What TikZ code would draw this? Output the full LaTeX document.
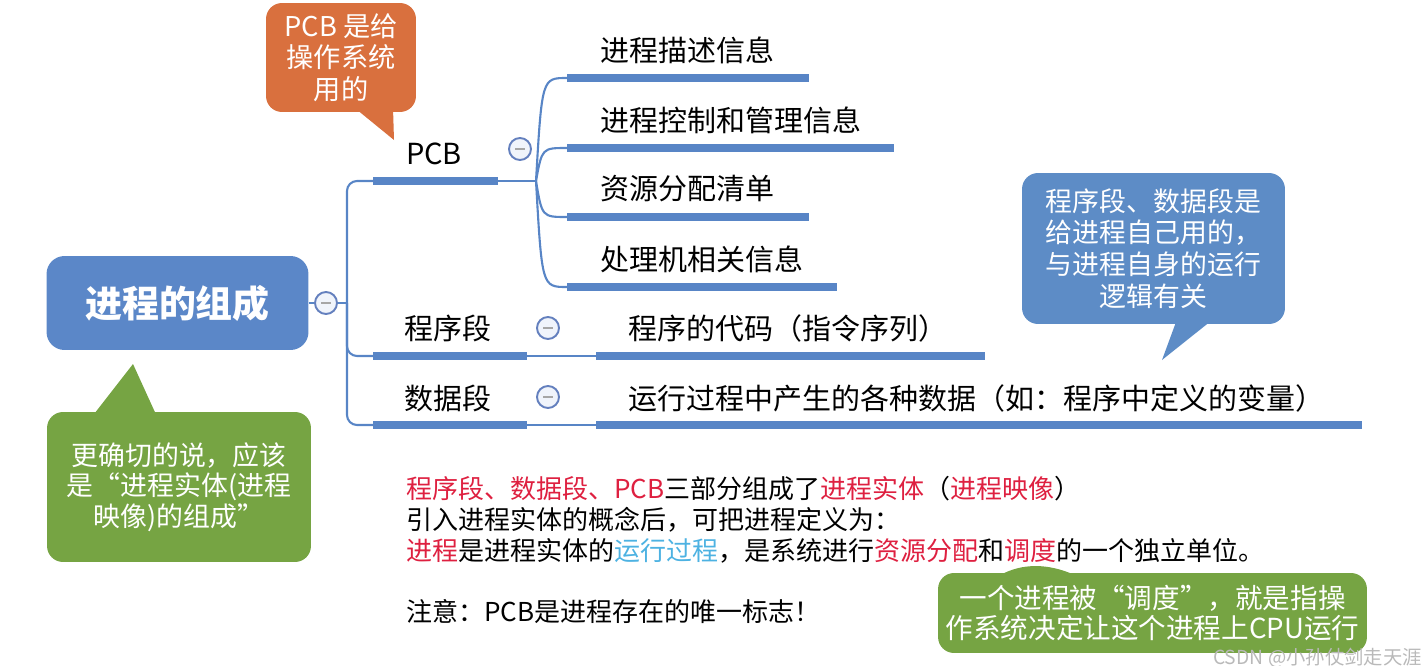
\documentclass[tikz,border=0pt]{standalone}
\usepackage{fontspec}
\usepackage{xcolor}
\setmainfont{Noto Sans CJK SC}
\definecolor{mapblue}{RGB}{88,133,198}
\definecolor{rootblue}{RGB}{91,135,200}
\definecolor{foldblue}{RGB}{100,128,190}
\definecolor{foldfill}{RGB}{240,244,251}
\definecolor{noteorange}{RGB}{217,112,62}
\definecolor{notegreen}{RGB}{118,164,67}
\definecolor{noteblue}{RGB}{93,140,198}
\definecolor{keyred}{RGB}{222,32,64}
\definecolor{keysky}{RGB}{77,178,226}

\begin{document}
\begin{tikzpicture}[x=0.02cm,y=-0.02cm,
    link/.style={draw=mapblue, line width=1.2pt},
    bar/.style={draw=mapblue, line width=4pt},
    lbl/.style={font=\fontsize{16.5}{20}\selectfont, inner sep=0pt},
    txt/.style={font=\fontsize{14.8}{18}\selectfont, inner sep=0pt, anchor=west},
    fold/.style={circle, draw=foldblue, fill=foldfill, line width=1.1pt,
      minimum size=0.44cm, inner sep=0pt,
      path picture={\draw[gray!70, line width=1.5pt]
        ([xshift=-0.1cm]path picture bounding box.center) --
        ([xshift=0.1cm]path picture bounding box.center);}},
    note/.style={rounded corners=0.32cm, inner sep=0pt, align=center, text=white}]
  \useasboundingbox (0,0) rectangle (1427,666);

  % root and trunk
  \node[fill=rootblue, rounded corners=0.36cm, minimum width=5.24cm, minimum height=1.88cm,
    text=white, font=\bfseries\fontsize{21}{25}\selectfont] (root) at (177.5,303) {进程的组成};
  \node[fold] (rootf) at (326,303) {};
  \coordinate (trunk) at (347,303);
  \draw[link] (root) -- (rootf); \draw[link] (rootf) -- (trunk);

  \coordinate (pcbL) at (373,181); \coordinate (pcbR) at (498,181);
  \coordinate (progL) at (373,356); \coordinate (progR) at (527,356);
  \coordinate (dataL) at (373,425); \coordinate (dataR) at (527,425);
  \draw[link, rounded corners=0.2cm] (pcbL) -| (trunk) |- (dataL);
  \draw[link, rounded corners=0.2cm] (trunk) |- (progL);
  \draw[bar] (pcbL) -- (pcbR); \draw[bar] (progL) -- (progR); \draw[bar] (dataL) -- (dataR);

  \node[lbl] (pcb) at (434,154) {PCB}; \node[fold] (pcbf) at (520,149) {};
  \node[lbl] (prog) at (448,328) {程序段}; \node[fold] (progf) at (548,328) {};
  \node[lbl] (data) at (448,398) {数据段}; \node[fold] (dataf) at (548,397) {};

  % PCB children
  \coordinate (pcbJ) at (536,181);
  \draw[link] (pcbR) -- (pcbJ);
  \foreach \n/\y/\x/\t in {desc/78/809/进程描述信息, ctrl/148/894/进程控制和管理信息,
      res/217/809/资源分配清单, cpu/287/837/处理机相关信息} {
    \coordinate (\n L) at (567,\y); \coordinate (\n R) at (\x,\y);
    \draw[link] (pcbJ) .. controls (542,\y) .. (\n L);
    \draw[bar] (\n L) -- (\n R);
    \node[lbl, anchor=west] (\n) at (600,\y-28) {\t};
  }

  % program and data contents
  \coordinate (codeL) at (596,356); \coordinate (codeR) at (985,356);
  \coordinate (varL) at (596,425); \coordinate (varR) at (1362,425);
  \draw[link] (progR) -- (codeL); \draw[bar] (codeL) -- (codeR);
  \draw[link] (dataR) -- (varL); \draw[bar] (varL) -- (varR);
  \node[lbl, anchor=west] (code) at (628,328) {程序的代码（指令序列）};
  \node[lbl, anchor=west] (var) at (628,398) {运行过程中产生的各种数据（如：程序中定义的变量）};

  % callouts
  \node[note, fill=noteorange, minimum width=3cm, minimum height=2.18cm,
    font=\fontsize{15.5}{17.8}\selectfont] (pcbnote) at (341,57.5) {PCB 是给\\操作系统\\用的};
  \coordinate (pcbtip) at (394,140);
  \fill[noteorange] ([xshift=0.26cm,yshift=0.1cm]pcbnote.south) -- (pcbtip)
    -- ([xshift=1.04cm,yshift=0.1cm]pcbnote.south) -- cycle;

  \node[note, fill=noteblue, minimum width=5.26cm, minimum height=3.02cm,
    font=\fontsize{15.3}{18}\selectfont] (selfnote) at (1153.5,248.5)
    {程序段、数据段是\\给进程自己用的，\\与进程自身的运行\\逻辑有关};
  \coordinate (selftip) at (1162,360);
  \fill[noteblue] ([xshift=0.47cm,yshift=0.1cm]selfnote.south) -- (selftip)
    -- ([xshift=1.19cm,yshift=0.1cm]selfnote.south) -- cycle;

  \node[note, fill=notegreen, minimum width=5.28cm, minimum height=3cm,
    font=\fontsize{15.3}{17.3}\selectfont] (imgnote) at (179,487)
    {更确切的说，应该\\是“进程实体(进程\\映像)的组成”};
  \coordinate (imgtip) at (133,364);
  \fill[notegreen] ([xshift=-1.74cm,yshift=-0.1cm]imgnote.north) -- (imgtip)
    -- ([xshift=-0.44cm,yshift=-0.1cm]imgnote.north) -- cycle;

  % bottom text
  \node[txt] (l1) at (406,489) {\textcolor{keyred}{程序段、数据段、PCB}三部分组成了\textcolor{keyred}{进程实体}（\textcolor{keyred}{进程映像}）};
  \node[txt] (l2) at (406,520) {引入进程实体的概念后，可把进程定义为：};
  \node[txt] (l3) at (406,551) {\textcolor{keyred}{进程}是进程实体的\textcolor{keysky}{运行过程}，是系统进行\textcolor{keyred}{资源分配}和\textcolor{keyred}{调度}的一个独立单位。};
  \node[txt] (l4) at (406,612) {注意：PCB是进程存在的唯一标志！};

  \node[note, fill=notegreen, minimum width=8.58cm, minimum height=1.6cm,
    font=\fontsize{15.7}{16.8}\selectfont] (schednote) at (1152.5,613)
    {一个进程被“调度”，就是指操\\作系统决定让这个进程上CPU运行};
  \fill[notegreen] ([xshift=-3.05cm,yshift=-0.05cm]schednote.north)
    .. controls (1022,563) and (1048,563) .. ([xshift=-1.55cm,yshift=-0.05cm]schednote.north) -- cycle;

  \node[font=\fontsize{11}{13}\selectfont, text=gray!55, anchor=east, inner sep=0pt] (mark) at (1422,658) {CSDN @小孙仗剑走天涯};
\end{tikzpicture}
\end{document}
